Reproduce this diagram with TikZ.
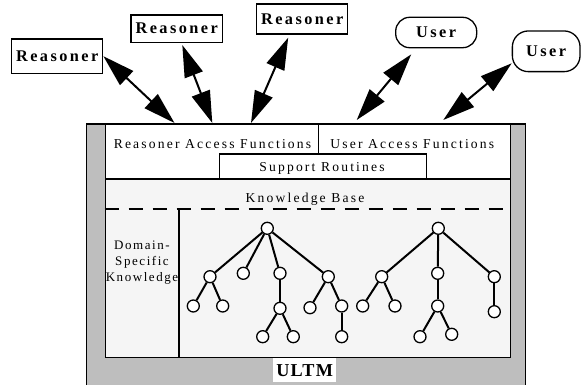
\documentclass[tikz,border=0pt]{standalone}
\usepackage{fontspec}
\setmainfont{Liberation Serif}
\newfontfamily\spcfont[LetterSpace=16]{Liberation Serif}
\newfontfamily\spcsmall[LetterSpace=12]{Liberation Serif}
\newfontfamily\spcbold[LetterSpace=15]{Liberation Serif}
\newfontfamily\spcultm[LetterSpace=7]{Liberation Serif}
\usetikzlibrary{arrows.meta}
\definecolor{framegray}{RGB}{190,190,190}
\definecolor{kbgray}{RGB}{245,245,245}
\begin{document}
\begin{tikzpicture}[x=1pt,y=-1pt,
  agent/.style={draw, line width=1.3pt, fill=white, inner sep=0pt,
    font=\spcbold\bfseries\fontsize{16.3}{18}\selectfont},
  region/.style={draw, line width=1.3pt, inner sep=0pt, anchor=north west},
  lbl/.style={inner sep=0pt, anchor=base, font=\spcfont\fontsize{13.6}{16}\selectfont},
  biarrow/.style={line width=2pt,
    {Triangle[length=32pt,width=19pt]}-{Triangle[length=32pt,width=19pt]}},
  tn/.style={circle, draw, fill=white, line width=1.3pt, minimum size=12pt, inner sep=0pt},
  edge/.style={line width=2pt}]
\useasboundingbox (0,0) rectangle (582,385);
\clip (0,0) rectangle (582,385);

% agents
\node[agent, minimum width=91pt, minimum height=34.3pt] (r1) at (57.2,56.2) {Reasoner};
\node[agent, minimum width=91.3pt, minimum height=27.3pt] (r2) at (176.7,28.7) {Reasoner};
\node[agent, minimum width=91pt, minimum height=30pt] (r3) at (302.2,19) {Reasoner};
\node[agent, rounded corners=14pt, minimum width=81pt, minimum height=30.4pt] (u1) at (436.2,32.5) {User};
\node[agent, rounded corners=16pt, minimum width=67.7pt, minimum height=40.7pt] (u2) at (546.2,51.3) {User};

% ULTM frame and regions
\node[region, fill=framegray, minimum width=439pt, minimum height=290pt] (frame) at (86,123.3) {};
\node[region, fill=white, minimum width=405.3pt, minimum height=55pt] (access) at (104.7,123.3) {};
\node[region, fill=kbgray, minimum width=405.3pt, minimum height=178.4pt] (kbase) at (104.7,178.3) {};
\node[region, minimum width=206.7pt, minimum height=25pt] (sr) at (219,153.3) {};
\draw[line width=1.3pt] (318.3,123.3) -- (318.3,153.3);
\draw[line width=2pt, dash pattern=on 14pt off 10pt] (104.7,209) -- (510,209);
\draw[line width=1.3pt] (179,209) -- (179,356.7);

% texts
\node[lbl] (raf) at (212.5,148.3) {Reasoner Access Functions};
\node[lbl] (uaf) at (412.3,148.3) {User Access Functions};
\node[lbl] (srt) at (322,171.7) {Support Routines};
\node[lbl] (kbt) at (305,202.3) {Knowledge Base};
\node[inner sep=0pt, align=center, font=\spcsmall\fontsize{13}{16}\selectfont] (dsk) at (142,263) {Domain-\\Specific\\Knowledge};
\node[fill=white, inner sep=0pt, minimum width=62.7pt, minimum height=24pt,
  font=\spcultm\bfseries\fontsize{18.2}{20}\selectfont] (ultm) at (304.7,370.3) {ULTM};

% tree 1
\node[tn] (a0) at (267.3,228.3) {};
\node[tn] (a1) at (210,276.7) {};
\node[tn] (a2) at (243.3,273.3) {};
\node[tn] (a3) at (280,273.3) {};
\node[tn] (a4) at (328.3,276.7) {};
\node[tn] (a11) at (193.3,306) {};
\node[tn] (a12) at (222.7,306) {};
\node[tn] (a31) at (280,308.3) {};
\node[tn] (a311) at (262.7,336.7) {};
\node[tn] (a312) at (293.3,336.7) {};
\node[tn] (a41) at (310,307.7) {};
\node[tn] (a42) at (341.7,306) {};
\node[tn] (a421) at (341.7,336.7) {};
\draw[edge] (a0) -- (a1);
\draw[edge] (a0) -- (a2);
\draw[edge] (a0) -- (a3);
\draw[edge] (a0) -- (a4);
\draw[edge] (a1) -- (a11);
\draw[edge] (a1) -- (a12);
\draw[edge] (a3) -- (a31);
\draw[edge] (a31) -- (a311);
\draw[edge] (a31) -- (a312);
\draw[edge] (a4) -- (a41);
\draw[edge] (a4) -- (a42);
\draw[edge] (a42) -- (a421);

% tree 2
\node[tn] (b0) at (438.3,228.3) {};
\node[tn] (b1) at (381.7,276.7) {};
\node[tn] (b2) at (437.7,273.3) {};
\node[tn] (b3) at (494.3,276.7) {};
\node[tn] (b11) at (362.7,306) {};
\node[tn] (b12) at (395,306) {};
\node[tn] (b21) at (437.7,306) {};
\node[tn] (b211) at (420,336.7) {};
\node[tn] (b212) at (451.7,334.3) {};
\node[tn] (b31) at (494.3,311.7) {};
\draw[edge] (b0) -- (b1);
\draw[edge] (b0) -- (b2);
\draw[edge] (b0) -- (b3);
\draw[edge] (b1) -- (b11);
\draw[edge] (b1) -- (b12);
\draw[edge] (b2) -- (b21);
\draw[edge] (b21) -- (b211);
\draw[edge] (b21) -- (b212);
\draw[edge] (b3) -- (b31);

% arrows
\coordinate (p1) at (174.5,123);
\coordinate (p2) at (212.3,123);
\coordinate (p3) at (251,123);
\coordinate (p4) at (356.7,120);
\coordinate (p5) at (443.3,120);
\draw[biarrow] (r1.east) -- (p1);
\draw[biarrow] ([xshift=5.6pt,yshift=-2pt]r2.south) -- (p2);
\draw[biarrow] ([xshift=-14pt,yshift=-3pt]r3.south) -- (p3);
\draw[biarrow] ([xshift=-25pt,yshift=-6pt]u1.south) -- (p4);
\draw[biarrow] ([yshift=-12pt]u2.west) -- (p5);
\end{tikzpicture}
\end{document}
